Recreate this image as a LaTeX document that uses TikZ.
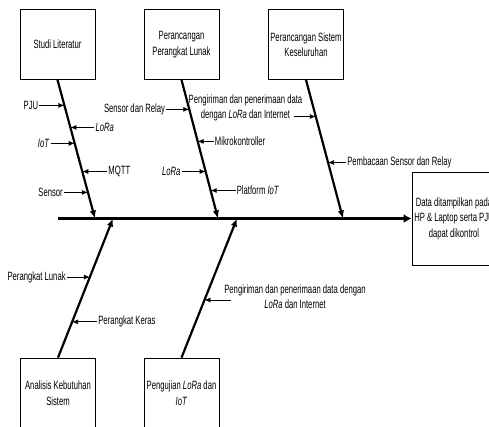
\documentclass[tikz,border=0pt]{standalone}
\usepackage{fontspec}
\setmainfont{Liberation Sans}[FakeStretch=0.64]
\usepackage{tikz}
\usetikzlibrary{arrows.meta,calc,positioning}

\begin{document}
\begin{tikzpicture}[x=1pt,y=-1pt,
	every node/.style={font=\fontsize{12}{15.5}\selectfont},
	kotak/.style={draw,line width=0.8pt,minimum width=75pt,minimum height=70pt,align=center,inner sep=1pt},
	tulang/.style={line width=2.2pt,-{Latex[length=8pt,width=6.5pt]}},
	cabang/.style={line width=0.8pt,-{Latex[length=6pt,width=5pt]}},
	ket/.style={inner sep=1pt,align=center}]
	\useasboundingbox (0,0) rectangle (489,427);
	\node[kotak] (studi) at (57.5,44.5) {Studi Literatur};
	\node[kotak] (lunak) at (181.5,44.5) {Perancangan\\Perangkat Lunak};
	\node[kotak] (sistem) at (306,44.5) {Perancangan Sistem\\Keseluruhan};
	\node[kotak] (analisis) at (58,393) {Analisis Kebutuhan\\Sistem};
	\node[kotak] (uji) at (181.5,393) {Pengujian \textit{LoRa} dan\\\textit{IoT}};
	\node[kotak,minimum width=84pt,minimum height=93pt] (hasil) at (454,218.5) {Data ditampilkan pada\\HP \& Laptop serta PJU\\dapat dikontrol};
	\coordinate (ekor) at (58,218.5);
	\coordinate (t1) at (95,218.5);
	\coordinate (t2) at (218,218.5);
	\coordinate (t3) at (343,218.5);
	\coordinate (t4) at (113,218.5);
	\coordinate (t5) at (237,218.5);
	\draw[line width=3.5pt,-{Latex[length=8pt,width=9pt]}] (ekor)--(hasil.west);
	\draw[tulang] (studi.south)--(t1);
	\draw[tulang] (lunak.south)--(t2);
	\draw[tulang] (sistem.south)--(t3);
	\draw[tulang] (analisis.north)--(t4);
	\draw[tulang] (uji.north)--(t5);
	% studi literatur
	\coordinate (pju) at ($(studi.south)!0.184!(t1)$);
	\coordinate (lora1) at ($(studi.south)!0.343!(t1)$);
	\coordinate (iot1) at ($(studi.south)!0.458!(t1)$);
	\coordinate (mqtt) at ($(studi.south)!0.661!(t1)$);
	\coordinate (sensor) at ($(studi.south)!0.812!(t1)$);
	\node[ket,anchor=east] (pjuL) at ($(pju)+(-25,0)$) {PJU};
	\node[ket,anchor=west] (lora1L) at ($(lora1)+(24,0)$) {\textit{LoRa}};
	\node[ket,anchor=east] (iot1L) at ($(iot1)+(-24,0)$) {\textit{IoT}};
	\node[ket,anchor=west] (mqttL) at ($(mqtt)+(25,0)$) {MQTT};
	\node[ket,anchor=east] (sensorL) at ($(sensor)+(-24,0)$) {Sensor};
	\draw[cabang] (pjuL)--(pju);
	\draw[cabang] (lora1L)--(lora1);
	\draw[cabang] (iot1L)--(iot1);
	\draw[cabang] (mqttL)--(mqtt);
	\draw[cabang] (sensorL)--(sensor);
	% perangkat lunak
	\coordinate (relay) at ($(lunak.south)!0.213!(t2)$);
	\coordinate (mikro) at ($(lunak.south)!0.444!(t2)$);
	\coordinate (lora2) at ($(lunak.south)!0.661!(t2)$);
	\coordinate (platform) at ($(lunak.south)!0.798!(t2)$);
	\node[ket,anchor=east] (relayL) at ($(relay)+(-23,0)$) {Sensor dan Relay};
	\node[ket,anchor=west] (mikroL) at ($(mikro)+(16,0)$) {Mikrokontroller};
	\node[ket,anchor=east] (lora2L) at ($(lora2)+(-24,0)$) {\textit{LoRa}};
	\node[ket,anchor=west] (platformL) at ($(platform)+(25,0)$) {Platform \textit{IoT}};
	\draw[cabang] (relayL)--(relay);
	\draw[cabang] (mikroL)--(mikro);
	\draw[cabang] (lora2L)--(lora2);
	\draw[cabang] (platformL)--(platform);
	% sistem keseluruhan
	\coordinate (kirim1) at ($(sistem.south)!0.264!(t3)$);
	\coordinate (kirim1A) at ($(kirim1)+(-22,0)$);
	\coordinate (baca) at ($(sistem.south)!0.596!(t3)$);
	\node[ket] (kirim1L) at (245.5,108) {Pengiriman dan penerimaan data\\dengan \textit{LoRa} dan Internet};
	\node[ket,anchor=west] (bacaL) at ($(baca)+(18,0)$) {Pembacaan Sensor dan Relay};
	\draw[cabang] (kirim1A)--(kirim1);
	\draw[cabang] (bacaL)--(baca);
	% analisis kebutuhan
	\coordinate (lunak2) at ($(analisis.north)!0.579!(t4)$);
	\coordinate (keras) at ($(analisis.north)!0.257!(t4)$);
	\node[ket,anchor=east] (lunak2L) at ($(lunak2)+(-23,0)$) {Perangkat Lunak};
	\node[ket,anchor=west] (kerasL) at ($(keras)+(25,0)$) {Perangkat Keras};
	\draw[cabang] (lunak2L)--(lunak2);
	\draw[cabang] (kerasL)--(keras);
	% pengujian
	\coordinate (kirim2) at ($(uji.north)!0.414!(t5)$);
	\coordinate (kirim2A) at ($(kirim2)+(27,0)$);
	\node[ket] (kirim2L) at (295,296.5) {Pengiriman dan penerimaan data dengan\\\textit{LoRa} dan Internet};
	\draw[cabang] (kirim2A)--(kirim2);
\end{tikzpicture}
\end{document}
